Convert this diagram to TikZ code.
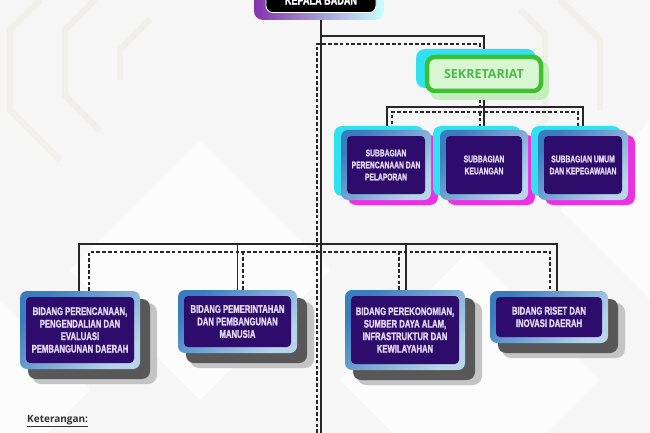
\documentclass[tikz,border=0pt]{standalone}
\usepackage{fontspec}
\setmainfont{Liberation Sans}
\newfontfamily\condfont[FakeStretch=0.70, FakeBold=1.6]{Liberation Sans Bold}
\newfontfamily\opensans{Open Sans}
\usetikzlibrary{calc}
\pgfdeclarelayer{back}\pgfdeclarelayer{wires}\pgfdeclarelayer{deco}
\pgfsetlayers{back,wires,deco,main}

\definecolor{inpurple}{HTML}{2E0C6C}
\definecolor{txtlav}{HTML}{E2D8F2}
\definecolor{bordA}{HTML}{3A7CC0}
\definecolor{bordB}{HTML}{B8D4E8}
\definecolor{shdark}{HTML}{585858}
\definecolor{shlight}{HTML}{C4C4C4}
\definecolor{glowcyan}{HTML}{30E2F0}
\definecolor{glowmag}{HTML}{EE30E4}
\definecolor{sekgreen}{HTML}{3EBE30}
\definecolor{sekfill}{HTML}{D8F6D2}
\definecolor{sektext}{HTML}{4CB848}
\definecolor{sekglow}{HTML}{C4EEBC}
\definecolor{linec}{HTML}{262626}
\definecolor{bgc}{HTML}{F6F6F6}
\definecolor{bgpat}{HTML}{FCFCFC}
\definecolor{bgline}{HTML}{F0EFEB}
\definecolor{kettext}{HTML}{333333}

\tikzset{
 conn/.style={draw=linec, line width=1.3pt},
 dconn/.style={draw=linec, line width=1.1pt, dash pattern=on 3.6pt off 2.2pt},
 inbox/.style={fill=inpurple, rounded corners=4pt, text=txtlav, align=center, inner sep=0pt},
 bidangin/.style={inbox, font=\condfont\fontsize{11}{12.5}\selectfont},
 subin/.style={inbox, font=\condfont\fontsize{9.6}{12}\selectfont},
 bordershade/.style={top color=bordA, bottom color=bordB, shading angle=45, rounded corners=7pt},
}

% name, cx, cy, w, h, text
\newcommand\bidangbox[6]{%
 \begin{pgfonlayer}{deco}
  \fill[shlight, rounded corners=9pt] ({#2-#4/2+12},{#3-#5/2+12}) rectangle ({#2+#4/2+17},{#3+#5/2+15});
  \fill[shdark, rounded corners=8pt] ({#2-#4/2+8},{#3-#5/2+8}) rectangle ({#2+#4/2+10},{#3+#5/2+10});
  \shade[bordershade] ({#2-#4/2},{#3-#5/2}) rectangle ({#2+#4/2},{#3+#5/2});
 \end{pgfonlayer}
 \node[bidangin, minimum width={#4-12}, minimum height={#5-12}] (#1) at (#2,#3) {#6};
}
\newcommand\subbox[6]{%
 \begin{pgfonlayer}{deco}
  \fill[glowmag, rounded corners=8pt] ({#2-#4/2+7},{#3-#5/2+5}) rectangle ({#2+#4/2+7},{#3+#5/2+5});
  \fill[glowcyan, rounded corners=8pt] ({#2-#4/2-7},{#3-#5/2-4}) rectangle ({#2+#4/2-7},{#3+#5/2-4});
  \shade[bordershade] ({#2-#4/2},{#3-#5/2}) rectangle ({#2+#4/2},{#3+#5/2});
 \end{pgfonlayer}
 \node[subin, minimum width={#4-12}, minimum height={#5-12}] (#1) at (#2,#3) {#6};
}

\begin{document}
\begin{tikzpicture}[x=1pt,y=-1pt]
\useasboundingbox (0,0) rectangle (650,433);
% background
\begin{pgfonlayer}{back}
 \fill[bgc] (0,0) rectangle (650,433);
 \fill[bgpat] (200,140) -- (330,270) -- (200,400) -- (70,270) -- cycle;
 \fill[bgpat] (470,250) -- (600,380) -- (470,510) -- (340,380) -- cycle;
 \fill[bgpat] (0,300) -- (90,390) -- (0,480) -- cycle;
 \fill[bgpat] (650,120) -- (560,210) -- (650,300) -- cycle;
 \draw[bgline, line width=6pt] (40,0) -- (10,30) -- (10,110) -- (60,160);
 \draw[bgline, line width=6pt] (95,0) -- (65,30) -- (65,95) -- (100,130);
 \draw[bgline, line width=6pt] (150,20) -- (120,50) -- (120,80);
 \draw[bgline, line width=6pt] (560,0) -- (600,40) -- (600,110);
 \draw[bgline, line width=6pt] (520,10) -- (545,35) -- (545,120) -- (520,145);
\end{pgfonlayer}

% KEPALA BADAN
\begin{pgfonlayer}{deco}
 \shade[left color=violet!80!blue!80, middle color=blue!8, right color=cyan!22, rounded corners=9pt] (254,-20) rectangle (384,20);
\end{pgfonlayer}
\node[anchor=south, fill=black, draw=white, line width=0.8pt, rounded corners=7pt,
      minimum width=110pt, inner ysep=0pt, text height=30pt, text depth=8pt,
      text=white, font=\condfont\fontsize{13}{14}\selectfont] (kb) at (321,13) {KEPALA BADAN};

% SEKRETARIAT
\begin{pgfonlayer}{deco}
 \fill[glowcyan, rounded corners=9pt] (416,49) rectangle (536,88);
 \fill[sekglow, rounded corners=9pt] (430,61) rectangle (549,100);
\end{pgfonlayer}
\node[draw=sekgreen, line width=4.5pt, fill=sekfill, rounded corners=8pt,
      minimum width=114pt, minimum height=34pt, text=sektext,
      font=\opensans\bfseries\fontsize{12.5}{14}\selectfont] (sek) at (484,74) {SEKRETARIAT};

% SUBBAGIAN
\subbox{sub1}{386}{165}{90}{70}{SUBBAGIAN\\PERENCANAAN DAN\\PELAPORAN}
\subbox{sub2}{484}{165}{88}{70}{SUBBAGIAN\\KEUANGAN}
\subbox{sub3}{583}{165}{90}{70}{SUBBAGIAN UMUM\\DAN KEPEGAWAIAN}

% BIDANG
\bidangbox{bd1}{80}{330}{120}{78}{BIDANG PERENCANAAN,\\PENGENDALIAN DAN\\EVALUASI\\PEMBANGUNAN DAERAH}
\bidangbox{bd2}{237.5}{321.5}{119}{63}{BIDANG PEMERINTAHAN\\DAN PEMBANGUNAN\\MANUSIA}
\bidangbox{bd3}{405}{330}{120}{80}{BIDANG PEREKONOMIAN,\\SUMBER DAYA ALAM,\\INFRASTRUKTUR DAN\\KEWILAYAHAN}
\bidangbox{bd4}{549}{317}{118}{52}{BIDANG RISET DAN\\INOVASI DAERAH}

% connectors
\coordinate (mainend) at (321,433);
\coordinate (dmainend) at (317,433);
\coordinate (j1) at (321,36);
\coordinate (j2) at (317,44);
\coordinate (s1) at (484,107);
\coordinate (s2) at (480,112);
\coordinate (h1) at (321,244);
\coordinate (h2) at (317,252);
\begin{pgfonlayer}{wires}
 \draw[conn] (kb.south) -- (mainend);
 \draw[conn] (j1) -| (sek.north);
 \draw[dconn] (dmainend) -- (j2) -| ([xshift=-4pt]sek.north);
 % sekretariat to subbagian
 \draw[conn] (sek.south) -- (s1);
 \draw[conn] ([xshift=1pt]sub1.north) |- (s1) -| (sub3.north);
 \draw[conn] (s1) -- (sub2.north);
 \draw[dconn] ([xshift=-4pt]sek.south) -- (s2);
 \draw[dconn] ([xshift=6pt]sub1.north) |- (s2) -| ([xshift=-5pt]sub3.north);
 \draw[dconn] (s2) -- ([xshift=-4pt]sub2.north);
 % bidang
 \draw[conn] ([xshift=-1pt]bd1.north) |- (h1) -| ([xshift=8pt]bd4.north);
 \draw[conn] (bd2.north) -- (bd2.north |- h1);
 \draw[conn] ([xshift=1pt]bd3.north) -- ([xshift=1pt]bd3.north |- h1);
 \draw[dconn] ([xshift=9pt]bd1.north) |- (h2) -| ([xshift=1pt]bd4.north);
 \draw[dconn] ([xshift=5.5pt]bd2.north) -- ([xshift=5.5pt]bd2.north |- h2);
 \draw[dconn] ([xshift=-6pt]bd3.north) -- ([xshift=-6pt]bd3.north |- h2);
\end{pgfonlayer}

% legend
\node[anchor=base west, inner sep=0pt, text=kettext, font=\opensans\bfseries\fontsize{10}{12}\selectfont] (ket) at (27,422) {\underline{Keterangan:}};
\end{tikzpicture}
\end{document}
